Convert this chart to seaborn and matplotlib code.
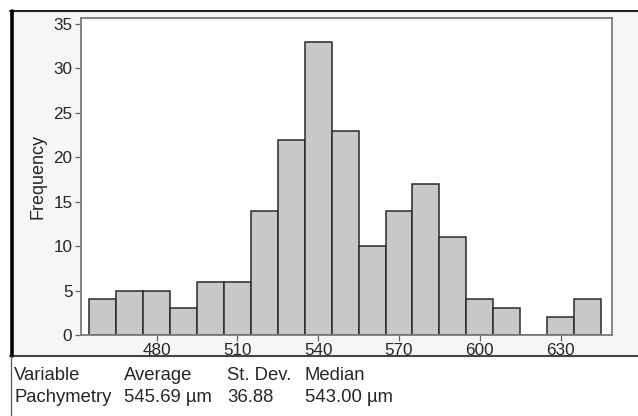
import numpy as np
import pandas as pd
import matplotlib
matplotlib.use("Agg")
import matplotlib.pyplot as plt
from matplotlib.patches import Rectangle
from matplotlib.lines import Line2D
import seaborn as sns

# Histogram of pachymetry values (bin centres, counts)
bin_centers = [460, 470, 480, 490, 500, 510, 520, 530, 540, 550,
               560, 570, 580, 590, 600, 610, 620, 630, 640]
counts = [4, 5, 5, 3, 6, 6, 14, 22, 33, 23, 10, 14, 17, 11, 4, 3, 0, 2, 4]
bin_width = 10
x_ticks = [480, 510, 540, 570, 600, 630]
y_ticks = [0, 5, 10, 15, 20, 25, 30, 35]

# Summary table below the chart
table_headers = ["Variable", "Average", "St. Dev.", "Median"]
table_values = ["Pachymetry", "545.69 \u00b5m", "36.88", "543.00 \u00b5m"]

sns.set_style("ticks")
plt.rcParams['font.family'] = ['Liberation Sans', 'DejaVu Sans']

W, H = 638, 416
fig = plt.figure(figsize=(W / 100, H / 100), dpi=100)
fig.patch.set_facecolor("white")

def fx(px):
    return px / W

def fy(py):
    return 1 - py / H

# light grey panel with frame lines
fig.add_artist(Rectangle((fx(12), fy(356)), fx(638) - fx(12), fy(11) - fy(356),
                         transform=fig.transFigure, facecolor="#f6f6f6",
                         edgecolor="none", zorder=0))
fig.add_artist(Line2D([fx(10), fx(638)], [fy(11), fy(11)], transform=fig.transFigure,
                      color="#222222", lw=1.5))
fig.add_artist(Line2D([fx(10), fx(638)], [fy(356), fy(356)], transform=fig.transFigure,
                      color="#444444", lw=1.5))
fig.add_artist(Line2D([fx(11.5), fx(11.5)], [fy(11), fy(356)], transform=fig.transFigure,
                      color="black", lw=2.6))
fig.add_artist(Line2D([fx(11), fx(11)], [fy(356), fy(416)], transform=fig.transFigure,
                      color="#555555", lw=0.9))

ax = fig.add_axes([fx(80.7), fy(335), fx(611.7) - fx(80.7), fy(18.3) - fy(335)])
ax.set_facecolor("white")

df = pd.DataFrame({"pachymetry": bin_centers, "freq": counts})
sns.histplot(data=df, x="pachymetry", weights="freq", binwidth=bin_width,
             binrange=(bin_centers[0] - bin_width / 2, bin_centers[-1] + bin_width / 2),
             ax=ax, color="#c8c8c8", edgecolor="#2a2a2a", linewidth=1.1, alpha=1)

ax.set_xlim(451.8, 649)
ax.set_ylim(0, 35.65)
ax.set_xticks(x_ticks)
ax.set_yticks(y_ticks)
ax.set_xlabel("")
ax.set_ylabel("Frequency", fontsize=13, labelpad=5)
ax.tick_params(axis="both", labelsize=12.3, length=4, width=0.9, color="#666666",
               direction="out", pad=2)
for s in ax.spines.values():
    s.set_color("#7a7a7a")
    s.set_linewidth(1.3)

# summary table
col_x = [14, 124, 227, 305]
for cx, head, val in zip(col_x, table_headers, table_values):
    fig.text(fx(cx), fy(380), head, fontsize=13.3, va="baseline", ha="left")
    fig.text(fx(cx), fy(402.5), val, fontsize=13.3, va="baseline", ha="left")

fig.savefig("out.png", dpi=100)
